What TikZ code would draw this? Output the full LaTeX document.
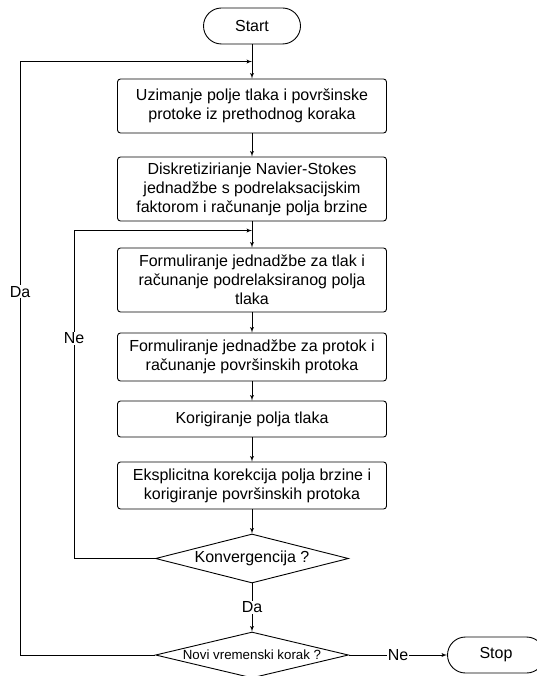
\documentclass[tikz,border=0pt]{standalone}
\usepackage{fontspec}
\setmainfont{Liberation Sans}
\usepackage{tikz}
\usetikzlibrary{shapes.geometric,arrows}
\tikzstyle{korak}=[draw, rounded corners=3pt, minimum width=269pt,
  align=center, inner sep=2pt, font=\fontsize{16}{19}\selectfont]
\tikzstyle{terminal}=[draw, rounded corners=18pt, minimum width=97pt,
  minimum height=36pt, font=\fontsize{16}{19}\selectfont]
\tikzstyle{odluka}=[draw, diamond, aspect=4, minimum width=193pt,
  minimum height=48pt, inner sep=0pt]
\tikzstyle{oznaka}=[fill=white, inner sep=1pt, font=\fontsize{16}{19}\selectfont]
\tikzstyle{line}=[draw, -latex']
\newcommand{\korak}[3]{node (k#1) [korak, minimum height=#2pt] {#3}}

\begin{document}
\begin{tikzpicture}[x=1pt, y=1pt, line width=0.9pt]
\useasboundingbox (-252,26) rectangle (284,-650);

  % Draw diagram elements
\path (0,0) node (start)[terminal] {Start};
\path (start)+(0,-80) \korak{1}{54}{Uzimanje polje tlaka i površinske\\protoke iz prethodnog koraka};
\path (k1)+(0,-83) \korak{2}{64}{Diskretizirianje Navier-Stokes\\jednadžbe s podrelaksacijskim\\faktorom i računanje polja brzine};
\path (k2)+(0,-91) \korak{3}{64}{Formuliranje jednadžbe za tlak i\\računanje podrelaksiranog polja\\tlaka};
\path (k3)+(0,-77) \korak{4}{48}{Formuliranje jednadžbe za protok i\\računanje površinskih protoka};
\path (k4)+(0,-62) \korak{5}{36}{Korigiranje polja tlaka};
\path (k5)+(0,-66.5) \korak{6}{47}{Eksplicitna korekcija polja brzine i\\korigiranje površinskih protoka};
\path (k6)+(0,-73) node (d1)[odluka, minimum height=49pt,
  font=\fontsize{16}{19}\selectfont] {Konvergencija ?};
\path (d1)+(0,-96.5) node (d2)[odluka, minimum height=46pt,
  font=\fontsize{13.3}{15}\selectfont] {Novi vremenski korak ?};
\path (d2)+(244,0) node (stop)[terminal] {Stop};

\path (k1.north)+(0,17) coordinate (j1);
\path (k3.north)+(0,17) coordinate (j2);

  % Draw arrows between elements
\path [line] (start) -- (k1);
\path [line] (k1) -- (k2);
\path [line] (k2) -- (k3);
\path [line] (k3) -- (k4);
\path [line] (k4) -- (k5);
\path [line] (k5) -- (k6);
\path [line] (k6) -- (d1);
\path [line] (d1) -- node [oznaka] {Da} (d2);
\path [line] (d2) -- node [oznaka] {Ne} (stop);

\path [line] (d1.west) -- +(-81,0) |- node [oznaka, pos=0.336] {Ne} (j2);
\path [line] (d2.west) -- +(-135,0) |- node [oznaka, pos=0.306] {Da} (j1);
\end{tikzpicture}
\end{document}
